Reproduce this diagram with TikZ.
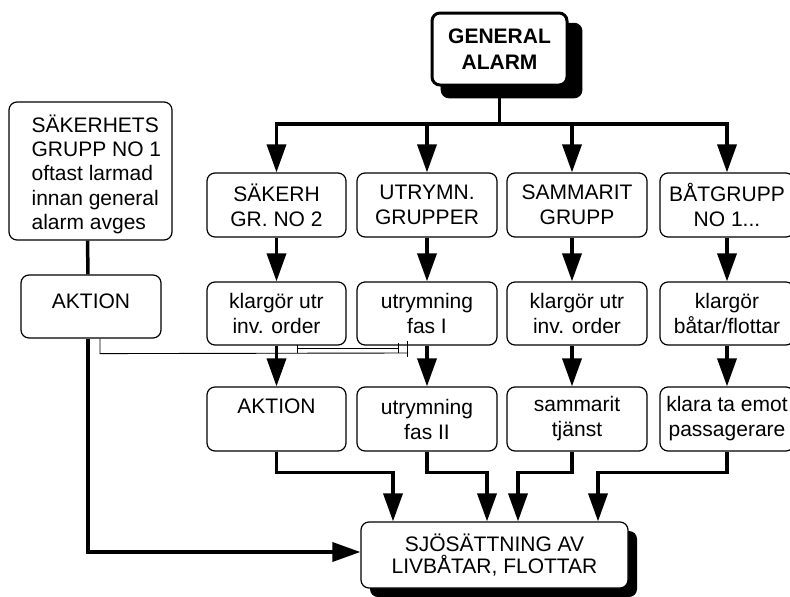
\documentclass[tikz,border=0pt]{standalone}
\usepackage{fontspec}
\setmainfont{Liberation Sans}
\usetikzlibrary{arrows.meta,calc,shadows}
\begin{document}
\begin{tikzpicture}[x=1pt,y=-1pt,
  box/.style={draw,line width=1.2pt,rounded corners=8pt,fill=white,align=center,
    inner sep=2pt,font=\fontsize{21}{25}\selectfont},
  conn/.style={line width=3.5pt},
  arr/.style={conn,-{Triangle[width=19pt,length=28pt]}},
  fine/.style={line width=0.9pt},
]
\useasboundingbox (0,0) rectangle (790,597);
\clip (0,0) rectangle (790,597);

\coordinate (bus) at (500,124);

% top box
\node[box,minimum width=135pt,minimum height=72pt,line width=3pt,
  font=\bfseries\fontsize{21}{26.5}\selectfont,
  general shadow={fill=black,shadow xshift=11.5pt,shadow yshift=-11pt,shadow scale=1.05}]
  (ga) at (499.5,49) {GENERAL\\ALARM};

% left column: the safety group box with its left-set text
\node[box,minimum width=163pt,minimum height=138pt] (sak) at (90.5,171) {};
\node[anchor=north west,inner sep=0pt,align=left,
  font=\fontsize{21}{24.3}\selectfont] (sakt) at ($(sak.north west)+(23,13)$)
  {SÄKERHETS\\GRUPP NO 1\\oftast larmad\\innan general\\alarm avges};
\node[box,minimum width=140pt,minimum height=63pt,text depth=11pt] (aktL) at (91,306.5) {AKTION};

% first row
\node[box,minimum width=139pt,minimum height=64pt] (r1a) at (276.5,205) {SÄKERH\\GR. NO 2};
\node[box,minimum width=140pt,minimum height=64pt] (r1b) at (427,205) {UTRYMN.\\GRUPPER};
\node[box,minimum width=140pt,minimum height=64pt] (r1c) at (577,205) {SAMMARIT\\GRUPP};
\node[box,minimum width=134pt,minimum height=64pt] (r1d) at (727,205) {BÅTGRUPP\\NO 1...};

% second row
\node[box,minimum width=139pt,minimum height=63pt] (r2a) at (276.5,313.5) {klargör utr\\inv. order};
\node[box,minimum width=140pt,minimum height=63pt] (r2b) at (427,313.5) {utrymning\\fas I};
\node[box,minimum width=140pt,minimum height=63pt] (r2c) at (577,313.5) {klargör utr\\inv. order};
\node[box,minimum width=134pt,minimum height=63pt] (r2d) at (727,313.5) {klargör\\båtar/flottar};

% third row
\node[box,minimum width=139pt,minimum height=64pt] (r3a) at (276.5,419) {AKTION\\\mbox{}};
\node[box,minimum width=140pt,minimum height=64pt] (r3b) at (427,419) {utrymning\\fas II};
\node[box,minimum width=140pt,minimum height=64pt] (r3c) at (577,419) {sammarit\\tjänst};
\node[box,minimum width=134pt,minimum height=64pt] (r3d) at (727,419) {klara ta emot\\passagerare};

% final box
\node[box,minimum width=267pt,minimum height=66pt,font=\fontsize{21}{22}\selectfont,
  general shadow={fill=black,shadow xshift=9pt,shadow yshift=-9pt}]
  (bot) at (494.5,555) {SJÖSÄTTNING AV\\LIVBÅTAR, FLOTTAR};

% distribution from the alarm
\draw[conn] (ga.south) -- (ga.south |- bus);
\draw[conn,line cap=rect] (r1a.north |- bus) -- (r1d.north |- bus);
\foreach \n/\dx in {r1a/0,r1b/0,r1c/-5,r1d/0}
  \draw[arr] ([xshift=\dx pt]\n.north |- bus) -- ([xshift=\dx pt]\n.north);

% down the columns
\foreach \c/\dx in {a/0,b/0,c/-5,d/0}{
  \draw[arr] ([xshift=\dx pt]r1\c.south) -- ([xshift=\dx pt]r2\c.north);
  \draw[arr] ([xshift=\dx pt]r2\c.south) -- ([xshift=\dx pt]r3\c.north);
}

% thin links under the second row
\draw[fine] ($(aktL.south)+(9,0)$) -- ++(0,15) -- (408,353);
\draw[fine] (297,345) -- (297,353);
\draw[fine] (297,348.5) -- (398,348.5);
\draw[fine] (398,343) -- (398,353);
\draw[fine] (407,341) -- (407,357);

% into the launching box
\draw[arr] (r3a.south) -- ++(0,21) -| ([xshift=-101.5pt]bot.north);
\draw[arr] (r3b.south) -- ++(0,21) -| ([xshift=-7.5pt]bot.north);
\draw[arr] ([xshift=-5pt]r3c.south) -- ++(0,21) -| ([xshift=23.5pt]bot.north);
\draw[arr] (r3d.south) -- ++(0,21) -| ([xshift=103.5pt]bot.north);

% left branch
\draw[conn] ([xshift=-3pt]sak.south) -- ([xshift=-3pt]aktL.north);
\draw[arr] ([xshift=-3pt]aktL.south) |- ([yshift=3pt]bot.west);
\end{tikzpicture}
\end{document}
